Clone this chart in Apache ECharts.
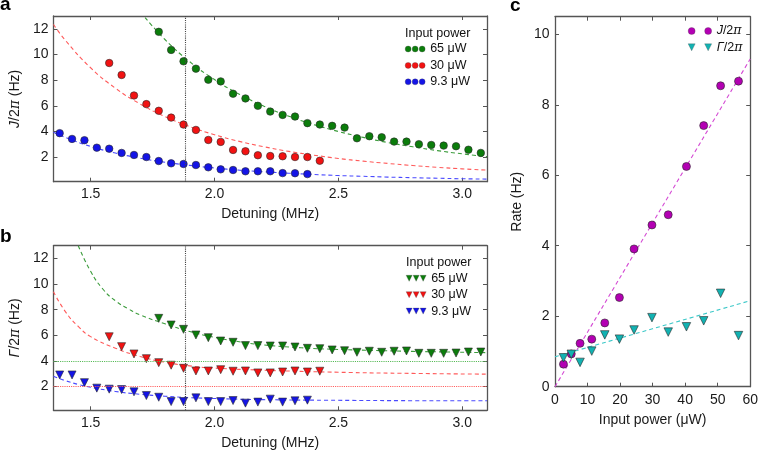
<!DOCTYPE html>
<html><head><meta charset="utf-8">
<script src="https://cdn.jsdelivr.net/npm/echarts@6/dist/echarts.min.js"></script>
<style>html,body{margin:0;padding:0;background:#fff}#c{width:761px;height:451px}</style>
</head><body><div id="c"></div>
<script>
// ---- data: detuning (MHz) per input power ----
const detBlue = [1.375,1.425,1.475,1.525,1.575,1.625,1.675,1.725,1.775,1.825,1.875,1.925,1.975,2.025,2.075,2.125,2.175,2.225,2.275,2.325,2.375];
const detRed = [1.575,1.625,1.675,1.725,1.775,1.825,1.875,1.925,1.975,2.025,2.075,2.125,2.175,2.225,2.275,2.325,2.375,2.425];
const detGreen = [1.775,1.825,1.875,1.925,1.975,2.025,2.075,2.125,2.175,2.225,2.275,2.325,2.375,2.425,2.475,2.525,2.575,2.625,2.675,2.725,2.775,2.825,2.875,2.925,2.975,3.025,3.075];
// panel a: J/2pi (Hz)
const jGreen = [11.77,10.36,9.47,8.90,8.04,7.91,6.95,6.58,6.01,5.56,5.30,5.17,4.66,4.55,4.45,4.31,3.48,3.64,3.56,3.22,3.22,3.02,2.96,2.91,2.86,2.59,2.34];
const jRed = [9.34,8.41,6.81,6.14,5.62,5.09,4.55,4.13,3.35,3.20,2.57,2.47,2.16,2.10,2.08,2.02,2.02,1.73];
const jBlue = [3.88,3.43,3.33,2.75,2.67,2.34,2.18,2.02,1.71,1.53,1.48,1.40,1.22,1.06,1.01,0.91,0.91,0.91,0.77,0.76,0.69];
// panel a fit curves
const fitAGreenX = [1.72,1.8,1.9,2.0,2.1,2.2,2.3,2.4,2.5,2.6,2.7,2.8,2.9,3.0,3.1];
const fitAGreenY = [12.88,11.17,9.44,8.05,6.91,5.97,5.20,4.55,4.01,3.55,3.15,2.82,2.52,2.27,2.05];
const fitAX = [1.35,1.4,1.5,1.6,1.7,1.8,1.9,2.0,2.1,2.2,2.3,2.4,2.5,2.6,2.7,2.8,2.9,3.0,3.1];
const fitARedY = [12.34,11.06,8.97,7.38,6.15,5.17,4.39,3.76,3.24,2.82,2.46,2.17,1.91,1.70,1.52,1.36,1.22,1.10,1.00];
const fitABlueY = [3.95,3.53,2.85,2.33,1.93,1.62,1.37,1.17,1.00,0.87,0.76,0.66,0.58,0.52,0.46,0.41,0.37,0.33,0.30];
// panel b: Gamma/2pi (Hz)
const gGreen = [7.33,6.81,6.47,6.03,5.82,5.56,5.46,5.20,5.20,5.17,5.17,5.09,4.99,4.96,4.86,4.80,4.68,4.76,4.68,4.76,4.78,4.60,4.60,4.60,4.62,4.70,4.70];
const gRed = [5.89,5.12,4.55,4.18,3.87,3.67,3.43,3.22,3.22,3.32,3.20,3.22,3.07,3.07,3.14,3.22,3.14,3.20];
const gBlue = [2.91,2.91,2.31,1.88,1.80,1.77,1.59,1.30,1.17,0.83,0.83,1.12,0.83,0.83,0.91,0.71,0.79,1.02,0.79,0.89,0.94];
// panel b fit curves
const fitBGreenX = [1.45,1.5,1.55,1.6,1.65,1.7,1.8,1.9,2.0,2.1,2.2,2.35,2.5,2.65,2.8,2.95,3.1];
const fitBGreenY = [13.0,11.0,9.6,8.7,8.1,7.6,6.9,6.3,5.85,5.5,5.25,5.03,4.9,4.82,4.75,4.7,4.65];
const fitBX = [1.35,1.4,1.45,1.5,1.6,1.7,1.8,1.9,2.0,2.2,2.5,2.8,3.1];
const fitBRedY = [9.4,7.8,6.7,5.9,5.0,4.35,3.9,3.62,3.45,3.28,3.12,3.03,2.97];
const fitBBlueY = [2.8,2.45,2.17,1.95,1.62,1.4,1.25,1.14,1.07,0.98,0.93,0.9,0.89];
const markDetuning = 1.875;
const thresholdGreen = 4;
const thresholdRed = 2;
// panel c: rate vs input power
const powJ = [2.6,5.0,7.7,11.3,15.3,19.8,24.3,29.8,34.8,40.4,45.7,50.9,56.4];
const rateJ = [0.64,0.93,1.23,1.35,1.81,2.53,3.91,4.59,4.88,6.25,7.41,8.54,8.67];
const powG = [2.6,5.0,7.7,11.3,15.3,19.8,24.3,29.8,34.8,40.4,45.7,50.9,56.4];
const rateG = [0.82,0.92,0.69,1.01,1.47,1.35,1.61,1.96,1.55,1.70,1.87,2.65,1.45];
const fitJX = [0,60], fitJY = [0,9.3];
const fitGX = [0,60], fitGY = [0.85,2.44];
// tick labels
const detTicks = [1.5,2.0,2.5,3.0];
const abTicks = [2,4,6,8,10,12];
const cXTicks = [0,10,20,30,40,50,60];
const cYTicks = [0,2,4,6,8,10];

const pts = (xs, ys) => xs.map((x, i) => [x, ys[i]]);
const FONT = 'Liberation Sans, Arial, Helvetica, sans-serif';
const AX = '#555';
const C = {green:'#0b7d0b', red:'#f21212', blue:'#1414e6', mag:'#b300b3', cyan:'#12b2b2',
  gL:'#3c9c3c', rL:'#ff5a5a', bL:'#4a4aff', mL:'#d44ad4', cL:'#3cc8c8'};

function axisBase(extra) {
  return Object.assign({
    type:'value',
    axisLine:{show:true, onZero:false, lineStyle:{color:AX, width:1.3}},
    splitLine:{show:false},
  }, extra);
}
function mkX(grid, min, max, ticks, opts) {
  const show = opts.labels;
  return axisBase({
    gridIndex:grid, min, max, position: opts.pos,
    axisTick:{show:true, inside:true, length:4, customValues:ticks, lineStyle:{color:AX, width:1}},
    axisLabel:{show:show, customValues:ticks, color:'#1a1a1a', fontSize:14, fontFamily:FONT, margin:opts.margin||5,
      formatter: opts.fmt || (v => String(v))},
    name: opts.name || '', nameLocation:'middle', nameGap: opts.gap || 25,
    nameTextStyle:{fontSize:14, fontFamily:FONT, color:'#1a1a1a'}
  });
}
function mkY(grid, min, max, ticks, opts) {
  return axisBase({
    gridIndex:grid, min, max, position: opts.pos,
    axisTick:{show:true, inside:true, length:4, customValues:ticks, lineStyle:{color:AX, width:1}},
    axisLabel:{show:opts.labels, customValues:ticks, color:'#1a1a1a', fontSize:14, fontFamily:FONT, margin:opts.margin||5},
    name: opts.name || '', nameLocation:'middle', nameGap: opts.gap || 23, nameRotate:90,
    nameTextStyle:{fontSize:14, fontFamily:FONT, color:'#1a1a1a',
      rich:{j:{fontSize:14, fontFamily:FONT, fontStyle:'italic', color:'#1a1a1a'},
            p:{fontSize:14, fontFamily:'DejaVu Serif', fontStyle:'italic', color:'#1a1a1a'},
            t:{fontSize:14, fontFamily:FONT, color:'#1a1a1a'}}}
  });
}
const fmt1 = v => v.toFixed(1);

const circles3 = 'path://M0,3A3,3,0,1,1,6,3A3,3,0,1,1,0,3Z M7,3A3,3,0,1,1,13,3A3,3,0,1,1,7,3Z M14,3A3,3,0,1,1,20,3A3,3,0,1,1,14,3Z';
const tri3 = 'path://M0,0L6,0L3,6Z M7,0L13,0L10,6Z M14,0L20,0L17,6Z';
const circles2 = 'path://M0,3.5A3.5,3.5,0,1,1,7,3.5A3.5,3.5,0,1,1,0,3.5Z M16.5,3.5A3.5,3.5,0,1,1,23.5,3.5A3.5,3.5,0,1,1,16.5,3.5Z';
const tri2 = 'path://M0,0L7,0L3.5,7Z M16.5,0L23.5,0L20,7Z';

const legendNames = {a65:'65 μW', a30:'30 μW', a9:'9.3 μW', b65:'65 μW', b30:'30 μW', b9:'9.3 μW',
  cJ:'{j|J}/2{p|π}', cG:'{j|Γ}/2{p|π}'};
const legendText = {fontSize:12.5, fontFamily:FONT, color:'#111', lineHeight:14,
  rich:{j:{fontSize:12.5, fontFamily:FONT, fontStyle:'italic', color:'#111'},
        p:{fontSize:12.5, fontFamily:'DejaVu Serif', fontStyle:'italic', color:'#111'}}};
const legendItem = {borderWidth:0.3, borderColor:'#444'};

const fitLine = (name, xi, yi, data, color) => ({
  name, type:'line', xAxisIndex:xi, yAxisIndex:yi, data, showSymbol:false, smooth:true, z:2,
  lineStyle:{color, width:1.1, type:[4,3]}, silent:true
});
const scat = (name, xi, yi, data, color, tri, size) => ({
  name, type:'scatter', xAxisIndex:xi, yAxisIndex:yi, data, z:3,
  symbol: tri ? 'triangle' : 'circle', symbolRotate: tri ? 180 : 0, symbolSize: size,
  itemStyle:{color, borderColor:'#2a2a2a', borderWidth:0.6, opacity:1}
});
const vMark = {silent:true, symbol:'none', label:{show:false}, animation:false,
  lineStyle:{type:'dotted', color:'#444', width:1.1}, data:[{xAxis:markDetuning}]};

const option = {
  animation:false,
  backgroundColor:'#fff',
  grid:[
    {left:45, top:16, width:442, height:165.7},
    {left:45, top:245.7, width:442, height:164.6},
    {left:555, top:16.7, width:198, height:370}
  ],
  xAxis:[
    mkX(0, 1.35, 3.1, detTicks, {labels:true, pos:'bottom', fmt:fmt1, name:'Detuning (MHz)', gap:25, margin:5}),
    mkX(0, 1.35, 3.1, detTicks, {labels:false, pos:'top'}),
    mkX(1, 1.35, 3.1, detTicks, {labels:true, pos:'bottom', fmt:fmt1, name:'Detuning (MHz)', gap:25.5, margin:5.5}),
    mkX(1, 1.35, 3.1, detTicks, {labels:false, pos:'top'}),
    mkX(2, 0, 60, cXTicks, {labels:true, pos:'bottom', name:'Input power (μW)', gap:26.5, margin:6}),
    mkX(2, 0, 60, cXTicks, {labels:false, pos:'top'})
  ],
  yAxis:[
    mkY(0, 0.1, 13, abTicks, {labels:true, pos:'left', name:'{j|J}/2{p|π} (Hz)', gap:23}),
    mkY(0, 0.1, 13, abTicks, {labels:false, pos:'right'}),
    mkY(1, 0.15, 13, abTicks, {labels:true, pos:'left', name:'{j|Γ}/2{p|π} (Hz)', gap:23}),
    mkY(1, 0.15, 13, abTicks, {labels:false, pos:'right'}),
    mkY(2, 0, 10.5, cYTicks, {labels:true, pos:'left', name:'Rate (Hz)', gap:31, margin:5.5}),
    mkY(2, 0, 10.5, cYTicks, {labels:false, pos:'right'})
  ],
  title:[
    {text:'Input power', left:405, top:27, padding:0, textStyle:{fontSize:12.5, fontWeight:'normal', fontFamily:FONT, color:'#111', lineHeight:14}},
    {text:'Input power', left:406, top:255.5, padding:0, textStyle:{fontSize:12.5, fontWeight:'normal', fontFamily:FONT, color:'#111', lineHeight:14}}
  ],
  legend:[
    {data:['a65','a30','a9'], orient:'vertical', left:405, top:42, padding:0, itemGap:2.4, itemWidth:20, itemHeight:6,
      icon:circles3, itemStyle:legendItem, formatter:n => legendNames[n], textStyle:legendText, selectedMode:false},
    {data:['b65','b30','b9'], orient:'vertical', left:406, top:271.3, padding:0, itemGap:2.4, itemWidth:20, itemHeight:6,
      icon:tri3, itemStyle:legendItem, formatter:n => legendNames[n], textStyle:legendText, selectedMode:false},
    {data:[{name:'cJ', icon:circles2}, {name:'cG', icon:tri2}], orient:'vertical', left:688, top:24, padding:0, itemGap:2.3,
      itemWidth:23.5, itemHeight:7, itemStyle:legendItem, formatter:n => legendNames[n], textStyle:legendText, selectedMode:false}
  ],
  graphic:[
    {type:'text', x:0, y:14, style:{text:'a', font:'bold 19px Liberation Sans, Arial', fill:'#000', verticalAlign:'bottom'}},
    {type:'text', x:0, y:246, style:{text:'b', font:'bold 19px Liberation Sans, Arial', fill:'#000', verticalAlign:'bottom'}},
    {type:'text', x:510, y:15.5, style:{text:'c', font:'bold 19px Liberation Sans, Arial', fill:'#000', verticalAlign:'bottom'}}
  ],
  series:[
    // panel a
    Object.assign(fitLine('fa65', 0, 0, pts(fitAGreenX, fitAGreenY), C.gL), {markLine:vMark}),
    fitLine('fa30', 0, 0, pts(fitAX, fitARedY), C.rL),
    fitLine('fa9', 0, 0, pts(fitAX, fitABlueY), C.bL),
    scat('a65', 0, 0, pts(detGreen, jGreen), C.green, false, 7.5),
    scat('a30', 0, 0, pts(detRed, jRed), C.red, false, 7.5),
    scat('a9', 0, 0, pts(detBlue, jBlue), C.blue, false, 7.5),
    // panel b
    Object.assign(fitLine('fb65', 2, 2, pts(fitBGreenX, fitBGreenY), C.gL), {markLine:{silent:true, symbol:'none', label:{show:false}, animation:false,
      data:[{xAxis:markDetuning, lineStyle:{type:'dotted', color:'#444', width:1.1}},
            {yAxis:thresholdGreen, lineStyle:{type:'dotted', color:'#52b852', width:1.1}},
            {yAxis:thresholdRed, lineStyle:{type:'dotted', color:'#ff5c5c', width:1.1}}]}}),
    fitLine('fb30', 2, 2, pts(fitBX, fitBRedY), C.rL),
    fitLine('fb9', 2, 2, pts(fitBX, fitBBlueY), C.bL),
    scat('b65', 2, 2, pts(detGreen, gGreen), C.green, true, 8),
    scat('b30', 2, 2, pts(detRed, gRed), C.red, true, 8),
    scat('b9', 2, 2, pts(detBlue, gBlue), C.blue, true, 8),
    // panel c
    fitLine('fcJ', 4, 4, pts(fitJX, fitJY), C.mL),
    fitLine('fcG', 4, 4, pts(fitGX, fitGY), C.cL),
    scat('cJ', 4, 4, pts(powJ, rateJ), C.mag, false, 8),
    scat('cG', 4, 4, pts(powG, rateG), C.cyan, true, 8.5)
  ]
};
const chart = echarts.init(document.getElementById('c'), null, {renderer:'canvas'});
chart.setOption(option);
</script>
</body></html>
